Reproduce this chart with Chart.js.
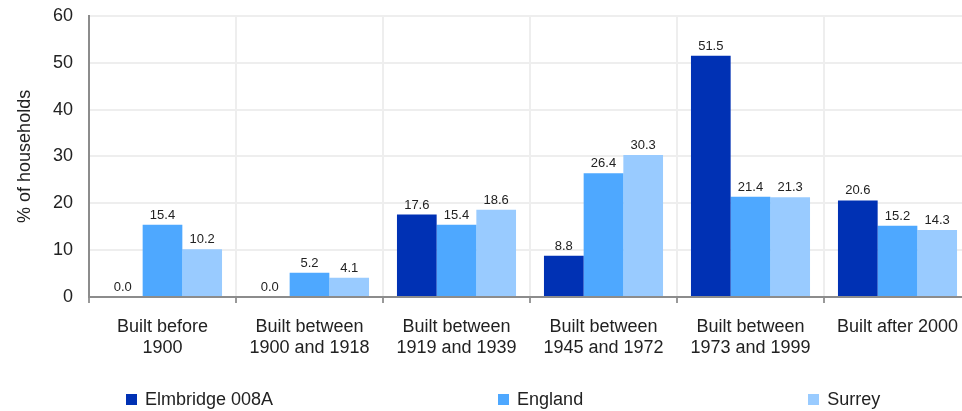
<!DOCTYPE html>
<html>
<head>
<meta charset="utf-8">
<script src="https://cdn.jsdelivr.net/npm/chart.js@4"></script>
<style>
  html, body { margin: 0; padding: 0; background: #fff; overflow: hidden; }
  #wrap { position: relative; width: 980px; height: 411px; }
  #legend {
    position: absolute; left: 126px; top: 389px;
    display: flex; column-gap: 225px;
    font: 18px "Liberation Sans", Arial, sans-serif; color: #222;
  }
  #legend .item { display: flex; align-items: center; height: 21px; }
  #legend .box { width: 11px; height: 11px; margin-right: 8px; }
</style>
</head>
<body>
<div id="wrap">
  <canvas id="chart" width="980" height="411"></canvas>
  <div id="legend"></div>
</div>
<script>
const categories = [
  ["Built before", "1900"],
  ["Built between", "1900 and 1918"],
  ["Built between", "1919 and 1939"],
  ["Built between", "1945 and 1972"],
  ["Built between", "1973 and 1999"],
  "Built after 2000"
];
const seriesNames = ["Elmbridge 008A", "England", "Surrey"];
const elmbridge = [0.0, 0.0, 17.6, 8.8, 51.5, 20.6];
const england = [15.4, 5.2, 15.4, 26.4, 21.4, 15.2];
const surrey = [10.2, 4.1, 18.6, 30.3, 21.3, 14.3];
const yTicks = [0, 10, 20, 30, 40, 50, 60];

const colors = ["#0031b4", "#4ea8ff", "#99cbff"];
const FONT = '"Liberation Sans", Arial, sans-serif';

// value labels above each bar
const barLabels = {
  id: "barLabels",
  afterDatasetsDraw(chart) {
    const ctx = chart.ctx;
    ctx.save();
    ctx.font = "13px " + FONT;
    ctx.fillStyle = "#222";
    ctx.textAlign = "center";
    ctx.textBaseline = "alphabetic";
    chart.data.datasets.forEach((ds, i) => {
      chart.getDatasetMeta(i).data.forEach((bar, j) => {
        ctx.fillText(ds.data[j].toFixed(1), bar.x, bar.y - 6);
      });
    });
    ctx.restore();
  }
};

const chart = new Chart(document.getElementById("chart"), {
  type: "bar",
  data: {
    labels: categories,
    datasets: [elmbridge, england, surrey].map((d, i) => ({
      label: seriesNames[i],
      data: d,
      backgroundColor: colors[i],
      borderWidth: 0,
      categoryPercentage: 0.81,
      barPercentage: 1.0
    }))
  },
  options: {
    responsive: false,
    animation: false,
    layout: { padding: { top: 0, right: 9, bottom: 54, left: 0 } },
    plugins: {
      legend: { display: false },
      tooltip: { enabled: false }
    },
    scales: {
      x: {
        grid: {
          offset: true,
          color: "#eeeeee",
          lineWidth: 2,
          tickColor: "#999999",
          tickLength: 6,
          tickWidth: 2
        },
        border: { color: "#8c8c8c", width: 2 },
        ticks: {
          color: "#222",
          font: { family: FONT, size: 18, lineHeight: 1.15 },
          padding: 14,
          maxRotation: 0,
          autoSkip: false
        },
        afterFit(scale) { scale.height = 60; }
      },
      y: {
        min: 0,
        max: 60,
        afterBuildTicks(scale) { scale.ticks = yTicks.map(v => ({ value: v })); },
        grid: {
          color: "#eeeeee",
          lineWidth: 2,
          drawTicks: true,
          tickLength: 11,
          tickColor: "rgba(0,0,0,0)"
        },
        border: { color: "#8c8c8c", width: 2 },
        ticks: {
          color: "#222",
          font: { family: FONT, size: 18 },
          padding: 5
        },
        title: {
          display: true,
          text: "% of households",
          color: "#222",
          font: { family: FONT, size: 18 },
          padding: { top: 14, bottom: 0 }
        },
        afterFit(scale) { scale.width = 89; }
      }
    }
  },
  plugins: [barLabels]
});

// legend built from the datasets
const legendEl = document.getElementById("legend");
chart.data.datasets.forEach(ds => {
  const item = document.createElement("div");
  item.className = "item";
  const box = document.createElement("span");
  box.className = "box";
  box.style.background = ds.backgroundColor;
  const txt = document.createElement("span");
  txt.textContent = ds.label;
  item.appendChild(box);
  item.appendChild(txt);
  legendEl.appendChild(item);
});
</script>
</body>
</html>
